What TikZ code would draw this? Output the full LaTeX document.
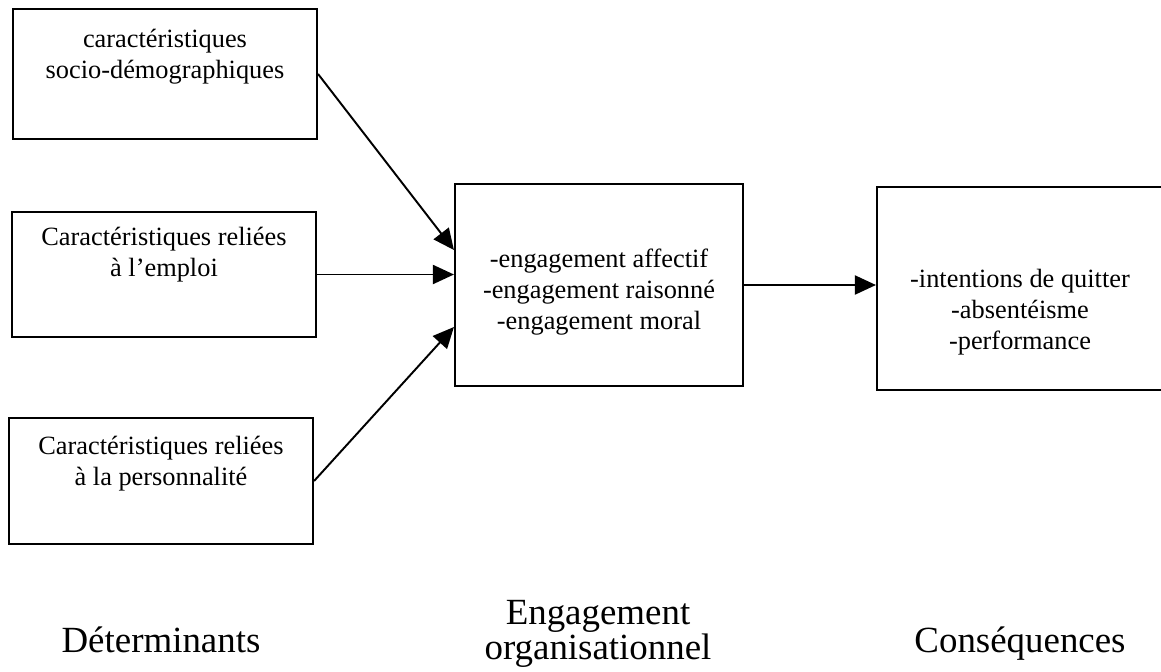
\documentclass[tikz,border=0pt]{standalone}
\usepackage{fontspec}
\setmainfont{Liberation Serif}
\usetikzlibrary{arrows.meta,positioning}

\begin{document}
\begin{tikzpicture}[
  box/.style={draw, line width=1.2pt, minimum width=6.08cm, minimum height=2.55cm, inner sep=0pt},
  boxtxt/.style={inner sep=0pt, align=center, font=\fontsize{15}{17.5}\selectfont},
  head/.style={inner sep=0pt, align=center, anchor=north, font=\fontsize{21}{20}\selectfont},
  arr/.style={-{Triangle[length=0.42cm, width=0.38cm]}, line width=1.1pt}
]
  \useasboundingbox (0,0) rectangle (23.22,-13.42);
  % determinants
  \node[box, minimum height=2.6cm] (soc) at (3.30,-1.48) {};
  \node[box, minimum height=2.5cm] (emp) at (3.28,-5.49) {};
  \node[box, minimum height=2.52cm] (pers) at (3.22,-9.62) {};
  \node[boxtxt, below=0.42cm of soc.north] (soc-t) {caractéristiques\\socio-démographiques};
  \node[boxtxt, below=0.32cm of emp.north] (emp-t) {Caractéristiques reliées\\à l’emploi};
  \node[boxtxt, below=0.38cm of pers.north] (pers-t) {Caractéristiques reliées\\à la personnalité};
  % engagement
  \node[box, minimum width=5.76cm, minimum height=4.04cm] (eng) at (11.98,-5.70) {};
  \node[boxtxt, below=1.32cm of eng.north] (eng-t) {-engagement affectif\\-engagement raisonné\\-engagement moral};
  % consequences
  \node[box, minimum width=5.72cm, minimum height=4.06cm] (csq) at (20.40,-5.77) {};
  \node[boxtxt, below=1.66cm of csq.north] (csq-t) {-intentions de quitter\\-absentéisme\\-performance};
  % arrows
  \draw[arr] (soc.east) -- ([yshift=0.7cm]eng.west);
  \draw[arr] (emp.east) -- (emp.east -| eng.west);
  \draw[arr] (pers.east) -- ([yshift=-0.84cm]eng.west);
  \draw[arr] (eng.east) -- (eng.east -| csq.west);
  % column titles
  \node[head] (det-h) at (3.22,-12.52) {Déterminants};
  \node[head] (eng-h) at (11.96,-12.0) {Engagement\\organisationnel};
  \node[head] (csq-h) at (20.40,-12.52) {Conséquences};
\end{tikzpicture}
\end{document}
